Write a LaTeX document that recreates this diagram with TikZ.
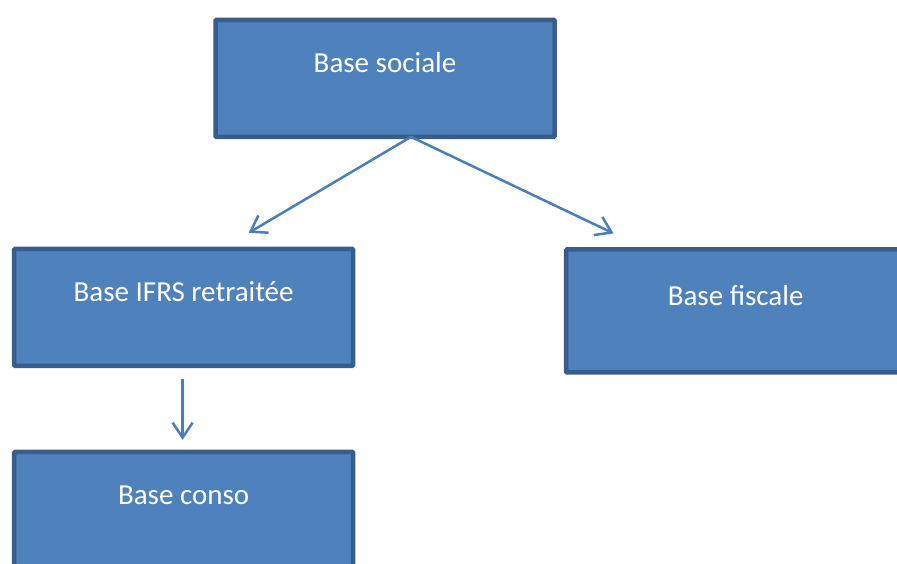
\documentclass[tikz,border=0pt]{standalone}
\usepackage{fontspec}
\setmainfont{Carlito}
\usepackage{tikz}
\usetikzlibrary{arrows.meta,positioning,calc}

\definecolor{boxfill}{HTML}{4F81BD}
\definecolor{boxline}{HTML}{385D8A}
\definecolor{linkcol}{HTML}{4A7EBB}

\begin{document}
\begin{tikzpicture}[x=1pt, y=-1pt,
  base/.style={draw=boxline, fill=boxfill, line width=4.5pt, rounded corners=1pt, rectangle, inner sep=0pt, outer sep=0pt, minimum width=339pt, text=white, font=\fontsize{29}{34}\selectfont, text height=53pt, text depth=64pt},
  link/.style={draw=linkcol, line width=2.5pt, -{Straight Barb[length=15pt,width=20pt]}}]
\useasboundingbox (0,0) rectangle (897,563);
\clip (0,0) rectangle (897,563);

\node[base] (sociale) at (385,78.35) {Base sociale};
\node[base, below=112pt of sociale, xshift=-201.4pt] (ifrs) {Base IFRS retraitée};
\node[base, right=213pt of ifrs, yshift=-3.6pt, text height=56pt, text depth=67pt] (fiscale) {Base fiscale};
\node[base, below=86pt of ifrs] (conso) {Base conso};

\coordinate (fork) at ($(sociale.south)+(26,0)$);
\coordinate (ifrsin) at ($(ifrs.north)+(65,-16)$);
\coordinate (fiscalein) at ($(fiscale.north)+(-122,-16)$);
\coordinate (ifrsout) at ($(ifrs.south)+(-1,13)$);
\coordinate (consoin) at ($(conso.north)+(-1,-12)$);

\draw[link] (fork) -- (ifrsin);
\draw[link] (fork) -- (fiscalein);
\draw[link] (ifrsout) -- (consoin);
\end{tikzpicture}
\end{document}
